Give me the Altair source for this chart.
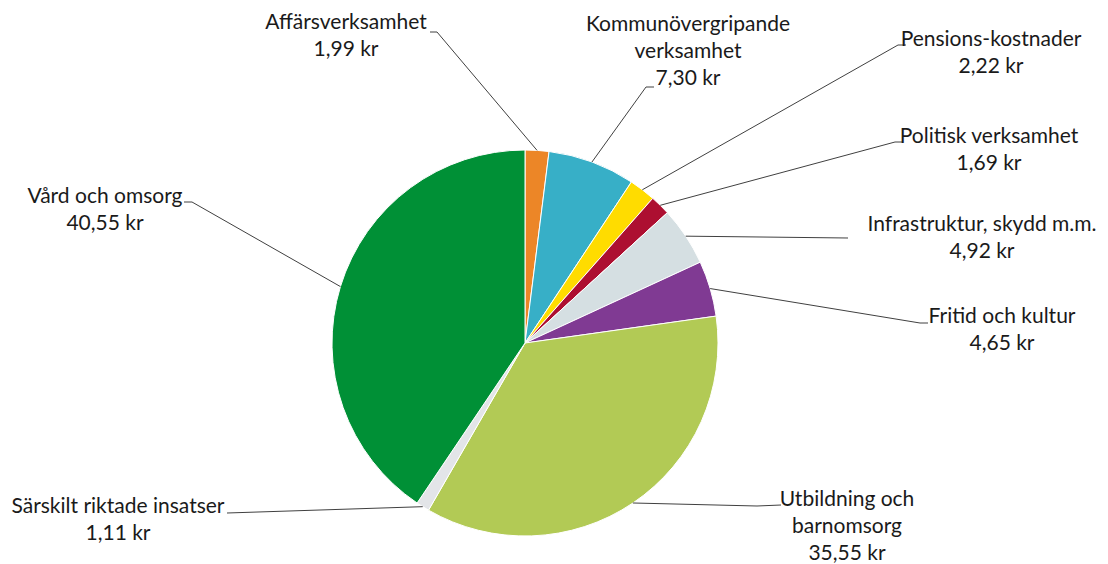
import math
import altair as alt
import pandas as pd

# ---------------- data ----------------
categories = [
    "Affärsverksamhet",
    "Kommunövergripande verksamhet",
    "Pensions-kostnader",
    "Politisk verksamhet",
    "Infrastruktur, skydd m.m.",
    "Fritid och kultur",
    "Utbildning och barnomsorg",
    "Särskilt riktade insatser",
    "Vård och omsorg",
]
label_names = [
    "Affärsverksamhet",
    "Kommunövergripande\nverksamhet",
    "Pensions-kostnader",
    "Politisk verksamhet",
    "Infrastruktur, skydd m.m.",
    "Fritid och kultur",
    "Utbildning och\nbarnomsorg",
    "Särskilt riktade insatser",
    "Vård och omsorg",
]
values = [1.99, 7.30, 2.22, 1.69, 4.92, 4.65, 35.55, 1.11, 40.55]

# ---------------- style / layout ----------------
colors = ["#EC8627", "#37AFC7", "#FFDC00", "#AD0F31", "#D5DFE2",
          "#803A93", "#B2CA55", "#E3E5E8", "#009036"]
W, H = 1092, 556
CX, CY, R = 525, 343, 193          # pie centre / radius (page coords)
# centre of first text line of each label
label_pos = [(346, 23), (688, 25), (991, 40), (989, 137), (982, 225),
             (1002, 317), (847, 500), (118, 507), (105, 197)]
elbows = [(437, 32), (646, 87), (898, 45), (895, 142), (848, 238),
          (920, 323), (757, 506), (227, 513), (192, 202)]
tick_ends = [(430, 32), (654, 87), (906, 45), (903, 142), None,
             (928, 323), (781, 505), None, (184, 202)]

xscale = alt.Scale(domain=[8, 8 + W], nice=False, zero=False)
yscale = alt.Scale(domain=[8, 8 + H], nice=False, zero=False, reverse=True)

pie_df = pd.DataFrame({"category": categories, "value": values,
                       "idx": list(range(len(values)))})

# leader lines: start at mid-angle of each slice on the rim
total = sum(values)
rows = []
cum = 0.0
for i, (c, v) in enumerate(zip(categories, values)):
    a = 2 * math.pi * (cum + v / 2) / total
    cum += v
    sx, sy = CX + R * math.sin(a), CY - R * math.cos(a)
    pts = [(sx, sy), elbows[i]]
    if tick_ends[i] is not None:
        pts.append(tick_ends[i])
    for s, (px, py) in enumerate(pts):
        rows.append({"category": c, "step": s, "x": px, "y": py})
lines_df = pd.DataFrame(rows)


def fmt(v):
    return f"{v:.2f}".replace(".", ",") + " kr"


labels_df = pd.DataFrame({
    "category": categories,
    "text": [f"{n}\n{fmt(v)}" for n, v in zip(label_names, values)],
    "x": [p[0] for p in label_pos],
    "y": [p[1] for p in label_pos],
})

pie = alt.Chart(pie_df).mark_arc(outerRadius=R, stroke="white", strokeWidth=1).encode(
    theta=alt.Theta("value:Q", stack=True),
    color=alt.Color("category:N", scale=alt.Scale(domain=categories, range=colors), legend=None),
    order=alt.Order("idx:Q"),
    x=alt.X(datum=CX, type="quantitative", scale=xscale, axis=None),
    y=alt.Y(datum=CY, type="quantitative", scale=yscale, axis=None),
)

lines = alt.Chart(lines_df).mark_line(color="#404040", strokeWidth=1).encode(
    x=alt.X("x:Q", scale=xscale, axis=None),
    y=alt.Y("y:Q", scale=yscale, axis=None),
    detail="category:N",
    order="step:Q",
)

labels = alt.Chart(labels_df).mark_text(
    font="Lato", fontSize=21, lineHeight=27, color="#1a1a1a",
    align="center", baseline="middle", lineBreak="\n",
).encode(
    x=alt.X("x:Q", scale=xscale, axis=None),
    y=alt.Y("y:Q", scale=yscale, axis=None),
    text="text:N",
)

chart = alt.layer(pie, lines, labels).properties(
    width=W, height=H, padding=0, autosize="none", background="white"
).configure_view(stroke=None)

chart.save("out.html", embed_options={"renderer": "svg", "actions": False})
